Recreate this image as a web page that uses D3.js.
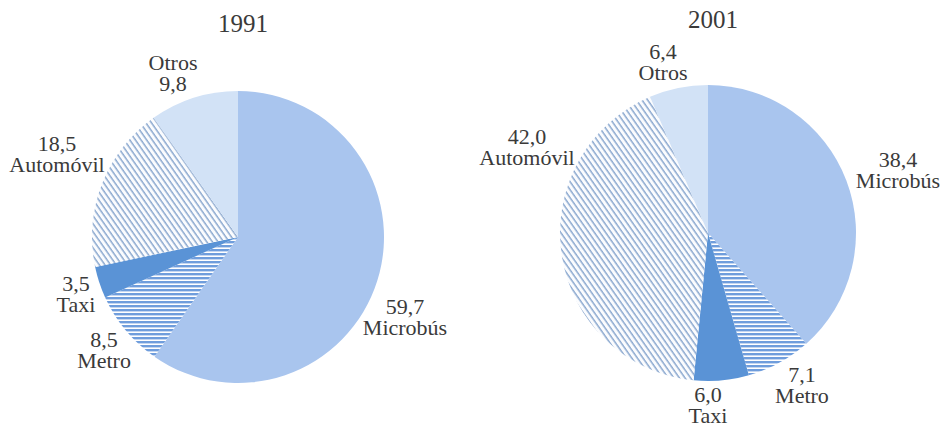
<!DOCTYPE html>
<html>
<head>
    <meta charset="utf-8" />
    <title>Reparto modal 1991 / 2001</title>
    <script src="https://d3js.org/d3.v7.min.js"></script>
    <style>
        body { margin: 0; background: #fff; }
    </style>
</head>
<body>
    <svg id="chart" width="944" height="427"></svg>

    <script>
        // categories in clockwise order, starting from 12 o'clock
        const categories = ["Microbús", "Metro", "Taxi", "Automóvil", "Otros"];
        const years = ["1991", "2001"];
        const values1991 = [59.7, 8.5, 3.5, 18.5, 9.8];
        const values2001 = [38.4, 7.1, 6.0, 42.0, 6.4];

        // fill for each category (pattern ids or colours)
        const fills = {
            "Microbús": "#a9c5ee",
            "Metro": "url(#hstripe)",
            "Taxi": "#5a93d6",
            "Automóvil": "url(#dstripe)",
            "Otros": "#d2e2f6"
        };

        // layout of each pie and its label positions (offset from pie centre, first-line baseline)
        const pies = [
            {
                year: years[0], values: values1991, cx: 238, cy: 237, r: 146,
                labels: { "Microbús": [167, 77], "Metro": [-134, 110], "Taxi": [-162, 54],
                          "Automóvil": [-181, -86], "Otros": [-65, -167] },
                nameFirst: ["Otros"]
            },
            {
                year: years[1], values: values2001, cx: 708, cy: 233, r: 148,
                labels: { "Microbús": [190, -66], "Metro": [94, 149], "Taxi": [0, 169],
                          "Automóvil": [-181, -89], "Otros": [-45, -174] },
                nameFirst: []
            }
        ];

        const svg = d3.select('#chart');
        const defs = svg.append('defs');

        // horizontal stripes (Metro)
        const hs = defs.append('pattern')
            .attr('id', 'hstripe')
            .attr('patternUnits', 'userSpaceOnUse')
            .attr('width', 8).attr('height', 4);
        hs.append('rect').attr('width', 8).attr('height', 4).attr('fill', '#fff');
        hs.append('rect').attr('width', 8).attr('height', 2.4).attr('fill', '#6f9ddc');

        // diagonal stripes (Automóvil)
        const ds = defs.append('pattern')
            .attr('id', 'dstripe')
            .attr('patternUnits', 'userSpaceOnUse')
            .attr('width', 10).attr('height', 4.6)
            .attr('patternTransform', 'rotate(55)');
        ds.append('rect').attr('width', 10).attr('height', 4.6).attr('fill', '#fbfcfe');
        ds.append('rect').attr('width', 10).attr('height', 1.5).attr('fill', '#8ba8cf');

        const fmt = v => d3.format('.1f')(v).replace('.', ',');

        const pie = d3.pie().sort(null).value(d => d.value);

        pies.forEach(p => {
            const data = categories.map((c, i) => ({ name: c, value: p.values[i] }));
            const arc = d3.arc().innerRadius(0).outerRadius(p.r);

            const g = svg.append('g')
                .attr('transform', `translate(${p.cx},${p.cy})`);

            g.selectAll('path')
                .data(pie(data))
                .enter()
                .append('path')
                .attr('d', arc)
                .attr('fill', d => fills[d.data.name]);

            // title
            svg.append('text')
                .attr('x', p.cx + 5)
                .attr('y', p.cy - 205)
                .attr('text-anchor', 'middle')
                .style('font-family', '"Liberation Serif"')
                .style('font-size', '25px')
                .attr('fill', '#3a3a3a')
                .text(p.year);

            // labels: value on top, name below (unless nameFirst)
            const lab = g.selectAll('.lab')
                .data(data)
                .enter()
                .append('text')
                .attr('class', 'lab')
                .attr('text-anchor', 'middle')
                .style('font-family', '"Liberation Serif"')
                .style('font-size', '22px')
                .attr('fill', '#3a3a3a')
                .attr('x', d => p.labels[d.name][0])
                .attr('y', d => p.labels[d.name][1]);

            const first = d => p.nameFirst.includes(d.name);
            lab.append('tspan')
                .attr('x', d => p.labels[d.name][0])
                .text(d => first(d) ? d.name : fmt(d.value));
            lab.append('tspan')
                .attr('x', d => p.labels[d.name][0])
                .attr('dy', 21)
                .text(d => first(d) ? fmt(d.value) : d.name);
        });
    </script>
</body>
</html>
